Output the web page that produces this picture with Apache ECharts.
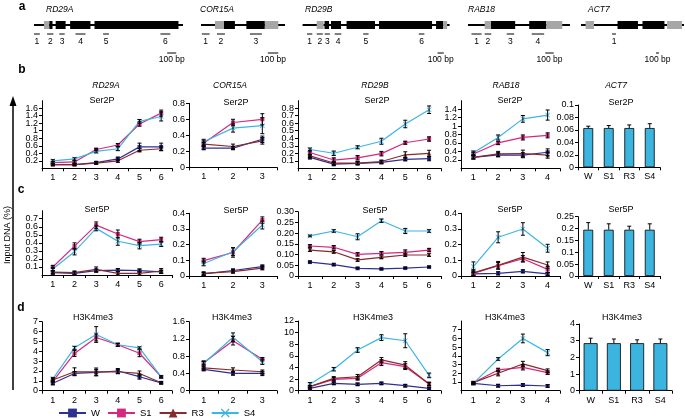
<!DOCTYPE html>
<html>
<head>
<meta charset="utf-8">
<script src="https://cdn.jsdelivr.net/npm/echarts@6/dist/echarts.min.js"></script>
<style>
html, body { margin: 0; padding: 0; background: #fff; }
#main { width: 685px; height: 419px; }
</style>
</head>
<body>
<div id="main"></div>
<script>
var SAMPLES = ["W", "S1", "R3", "S4"];
var COLORS = ["#2e3192", "#d6287f", "#8b2a2c", "#3db5e6"];
var X_PATH = "path://M1,0L5,4L9,0L10,1L6,5L10,9L9,10L5,6L1,10L0,9L4,5L0,1Z";
var SYMBOLS = ["rect", "rect", "triangle", X_PATH];
var BAR_CATS = ["W", "S1", "R3", "S4"];
var GENES = ["RD29A", "COR15A", "RD29B", "RAB18", "ACT7"];

// ---- panel a : gene structures (bp) ----
var geneLength = [1650, 800, 2335, 1200, 3400];
// [start, end, kind]  kind 1 = UTR (grey), 2 = exon (black)
var exons_RD29A = [[110, 170, 1], [170, 205, 2], [240, 350, 2], [400, 625, 2], [670, 1600, 2]];
var exons_COR15A = [[133, 219, 1], [219, 323, 2], [432, 608, 2], [608, 736, 1]];
var exons_RD29B = [[224, 335, 1], [348, 420, 2], [451, 610, 2], [698, 1150, 2], [1214, 2056, 2], [2120, 2232, 2], [2232, 2296, 1]];
var exons_RAB18 = [[196, 271, 1], [271, 555, 2], [720, 920, 2], [920, 1109, 1]];
var exons_ACT7 = [[150, 430, 1], [1205, 1880, 2], [2030, 2755, 2], [2840, 3335, 1]];
// ChIP amplicons
var amp_RD29A = [[0, 65], [145, 215], [280, 340], [460, 570], [765, 830], [1400, 1510]];
var amp_COR15A = [[8, 82], [152, 228], [466, 580]];
var amp_RD29B = [[70, 154], [224, 321], [351, 433], [510, 615], [962, 1048], [1845, 1935]];
var amp_RAB18 = [[41, 160], [196, 274], [455, 543], [750, 896]];
var amp_ACT7 = [[1025, 1155]];
// 100 bp scale bar start
var scaleStart = [1475, 636, 2143, 909, 2475];

// ---- b : Ser2P  (rows W, S1, R3, S4) ----
var b_RD29A = [[0.10, 0.10, 0.15, 0.25, 0.57, 0.57], [0.15, 0.17, 0.50, 0.62, 1.18, 1.47], [0.10, 0.10, 0.14, 0.20, 0.48, 0.52], [0.20, 0.25, 0.45, 0.52, 1.25, 1.38]];
var b_RD29A_err = [[0.02, 0.02, 0.03, 0.05, 0.10, 0.10], [0.03, 0.03, 0.03, 0.04, 0.06, 0.08], [0.02, 0.02, 0.03, 0.04, 0.04, 0.05], [0.03, 0.03, 0.04, 0.05, 0.05, 0.12]];
var b_COR15A = [[0.24, 0.24, 0.35], [0.30, 0.56, 0.60], [0.29, 0.26, 0.33], [0.32, 0.49, 0.52]];
var b_COR15A_err = [[0.02, 0.02, 0.04], [0.03, 0.04, 0.07], [0.02, 0.03, 0.04], [0.03, 0.05, 0.10]];
var b_RD29B = [[0.145, 0.055, 0.065, 0.08, 0.12, 0.13], [0.21, 0.11, 0.14, 0.195, 0.34, 0.39], [0.165, 0.07, 0.07, 0.09, 0.18, 0.2], [0.25, 0.2, 0.28, 0.36, 0.59, 0.78]];
var b_RD29B_err = [[0.02, 0.02, 0.02, 0.02, 0.02, 0.03], [0.03, 0.03, 0.03, 0.03, 0.02, 0.03], [0.02, 0.02, 0.02, 0.02, 0.04, 0.04], [0.02, 0.03, 0.02, 0.04, 0.05, 0.05]];
var b_RAB18 = [[0.26, 0.32, 0.31, 0.38], [0.34, 0.6, 0.73, 0.78], [0.26, 0.34, 0.35, 0.31], [0.37, 0.73, 1.17, 1.26]];
var b_RAB18_err = [[0.04, 0.05, 0.06, 0.08], [0.04, 0.04, 0.06, 0.06], [0.04, 0.06, 0.08, 0.07], [0.04, 0.06, 0.08, 0.12]];
var b_ACT7 = [0.063, 0.063, 0.063, 0.063];
var b_ACT7_err = [0.003, 0.004, 0.005, 0.007];

// ---- c : Ser5P ----
var c_RD29A = [[0.03, 0.02, 0.055, 0.06, 0.055, 0.04], [0.10, 0.36, 0.62, 0.51, 0.415, 0.44], [0.035, 0.03, 0.07, 0.02, 0.02, 0.05], [0.075, 0.29, 0.58, 0.42, 0.365, 0.385]];
var c_RD29A_err = [[0.02, 0.02, 0.02, 0.02, 0.02, 0.02], [0.02, 0.04, 0.04, 0.05, 0.03, 0.03], [0.02, 0.02, 0.03, 0.02, 0.02, 0.03], [0.02, 0.04, 0.03, 0.05, 0.04, 0.03]];
var c_COR15A = [[0.013, 0.035, 0.06], [0.098, 0.15, 0.357], [0.017, 0.028, 0.05], [0.08, 0.155, 0.325]];
var c_COR15A_err = [[0.01, 0.01, 0.01], [0.015, 0.03, 0.02], [0.01, 0.01, 0.01], [0.015, 0.025, 0.025]];
var c_RD29B = [[0.065, 0.053, 0.036, 0.033, 0.037, 0.042], [0.14, 0.134, 0.101, 0.106, 0.11, 0.121], [0.121, 0.113, 0.075, 0.087, 0.098, 0.098], [0.187, 0.21, 0.183, 0.258, 0.21, 0.21]];
var c_RD29B_err = [[0.004, 0.004, 0.003, 0.003, 0.003, 0.003], [0.006, 0.008, 0.008, 0.008, 0.012, 0.008], [0.006, 0.006, 0.006, 0.006, 0.006, 0.006], [0.004, 0.006, 0.014, 0.008, 0.012, 0.006]];
var c_RAB18 = [[0.013, 0.017, 0.03, 0.013], [0.017, 0.066, 0.11, 0.042], [0.02, 0.068, 0.12, 0.07], [0.06, 0.247, 0.3, 0.177]];
var c_RAB18_err = [[0.01, 0.01, 0.01, 0.01], [0.02, 0.02, 0.02, 0.02], [0.02, 0.025, 0.03, 0.02], [0.03, 0.035, 0.04, 0.025]];
var c_ACT7 = [0.195, 0.195, 0.195, 0.195];
var c_ACT7_err = [0.03, 0.025, 0.015, 0.025];

// ---- d : H3K4me3 ----
var d_RD29A = [[0.75, 1.75, 1.86, 2.0, 1.42, 0.8], [0.95, 3.78, 5.4, 4.66, 3.8, 1.4], [1.08, 1.92, 1.9, 1.92, 1.75, 0.8], [1.2, 4.35, 5.7, 4.66, 4.35, 1.4]];
var d_RD29A_err = [[0.15, 0.2, 0.3, 0.25, 0.25, 0.1], [0.15, 0.3, 0.35, 0.15, 0.35, 0.1], [0.15, 0.4, 0.4, 0.2, 0.25, 0.1], [0.15, 0.15, 0.8, 0.15, 0.1, 0.1]];
var d_COR15A = [[0.495, 0.4, 0.4], [0.65, 1.16, 0.73], [0.53, 0.48, 0.44], [0.63, 1.24, 0.67]];
var d_COR15A_err = [[0.03, 0.04, 0.05], [0.04, 0.1, 0.04], [0.03, 0.05, 0.04], [0.05, 0.1, 0.06]];
var d_RD29B = [[0.4, 1.26, 1.1, 1.26, 0.86, 0.4], [0.7, 1.95, 2.13, 4.83, 4.14, 1.15], [0.7, 2.13, 2.4, 5.3, 4.4, 1.15], [1.1, 3.7, 7.0, 9.14, 8.6, 2.64]];
var d_RD29B_err = [[0.15, 0.2, 0.2, 0.2, 0.2, 0.15], [0.2, 0.3, 0.3, 0.5, 0.5, 0.3], [0.2, 0.3, 0.4, 0.4, 0.6, 0.3], [0.3, 0.3, 0.4, 0.5, 1.2, 0.4]];
var d_RAB18 = [[0.84, 0.57, 0.65, 0.54], [0.92, 2.38, 2.68, 2.07], [0.92, 2.0, 3.07, 2.3], [0.84, 3.64, 6.0, 4.37]];
var d_RAB18_err = [[0.1, 0.15, 0.15, 0.15], [0.1, 0.2, 0.3, 0.2], [0.1, 0.3, 0.3, 0.2], [0.15, 0.15, 0.5, 0.35]];
var d_ACT7 = [2.85, 2.85, 2.85, 2.85];
var d_ACT7_err = [0.3, 0.25, 0.2, 0.25];

// axis ranges per row: [max, interval]
var b_axes = [[1.8, 0.2], [0.8, 0.2], [0.9, 0.1], [1.6, 0.2], [0.1, 0.02]];
var c_axes = [[0.8, 0.1], [0.4, 0.1], [0.30, 0.05], [0.4, 0.1], [0.25, 0.05]];
var d_axes = [[7, 1], [1.6, 0.4], [12, 2], [8, 1], [4, 1]];

// ---------------- layout ----------------
var FONT = "Liberation Sans";
var colX = [[42, 172], [189, 277], [298, 441], [461, 560], [578, 660]];
var rowY = {
  b: [[100.7, 168.3], [103.3, 167.3], [100.7, 168.3], [100.7, 168.3], [105, 167.3]],
  c: [[210.7, 275], [213.3, 276], [211.7, 276], [213.3, 276], [216.7, 276]],
  d: [[321.7, 390.7], [321.7, 390.7], [321, 390.7], [321, 390.7], [324, 390.7]]
};
var geneBox = [[34, 149], [201, 84], [302.6, 147], [468, 102], [581, 103]];

var grids = [], xAxes = [], yAxes = [], series = [], graphics = [];

function fmtNum(v, twoDec) {
  if (v === 0) return "0";
  var r = +v.toFixed(4);
  return twoDec ? r.toFixed(2) : String(r);
}

function addAxes(x0, x1, y0, y1, cats, max, step, twoDec) {
  var gi = grids.length;
  grids.push({ left: x0, top: y0, width: x1 - x0, height: y1 - y0 });
  xAxes.push({
    gridIndex: gi, type: "category", data: cats, boundaryGap: true,
    axisLine: { show: true, lineStyle: { color: "#000", width: 1 } },
    axisTick: { show: true, inside: false, length: 3, lineStyle: { color: "#000" } },
    axisLabel: { color: "#000", fontFamily: FONT, fontSize: 9, margin: 5 }
  });
  yAxes.push({
    gridIndex: gi, type: "value", min: 0, max: max, interval: step,
    axisLine: { show: true, lineStyle: { color: "#000", width: 1 } },
    axisTick: { show: true, length: 3, lineStyle: { color: "#000" } },
    splitLine: { show: false },
    axisLabel: {
      color: "#000", fontFamily: FONT, fontSize: 9, margin: 4,
      formatter: function (v) { return fmtNum(v, twoDec); }
    }
  });
  return gi;
}

function errRender(upperOnly) {
  return function (params, api) {
    var i = api.value(0), v = api.value(1), e = api.value(2);
    var hi = api.coord([i, v + e]);
    var lo = api.coord(upperOnly ? [i, v] : [i, v - e]);
    var w = 2;
    var st = { stroke: "#000", lineWidth: 1 };
    var kids = [
      { type: "line", shape: { x1: hi[0], y1: hi[1], x2: lo[0], y2: lo[1] }, style: st },
      { type: "line", shape: { x1: hi[0] - w, y1: hi[1], x2: hi[0] + w, y2: hi[1] }, style: st }
    ];
    if (!upperOnly) kids.push({ type: "line", shape: { x1: lo[0] - w, y1: lo[1], x2: lo[0] + w, y2: lo[1] }, style: st });
    return { type: "group", children: kids };
  };
}

function addLinePanel(col, yr, axis, vals, errs, twoDec) {
  var n = vals[0].length;
  var cats = [];
  for (var i = 1; i <= n; i++) cats.push(String(i));
  var gi = addAxes(colX[col][0], colX[col][1], yr[0], yr[1], cats, axis[0], axis[1], twoDec);
  for (var k = 0; k < 4; k++) {
    series.push({
      name: SAMPLES[k], type: "line", xAxisIndex: gi, yAxisIndex: gi,
      data: vals[k], symbol: SYMBOLS[k], symbolSize: k === 3 ? 5 : 4,
      lineStyle: { color: COLORS[k], width: 1.2 },
      itemStyle: { color: COLORS[k] }, z: 3
    });
    var ed = vals[k].map(function (v, j) { return [j, v, errs[k][j]]; });
    series.push({
      type: "custom", xAxisIndex: gi, yAxisIndex: gi, data: ed,
      renderItem: errRender(false), encode: { x: 0, y: 1 }, z: 4, silent: true
    });
  }
}

function addBarPanel(yr, axis, vals, errs, xr, barW) {
  var gi = addAxes(xr[0], xr[1], yr[0], yr[1], BAR_CATS, axis[0], axis[1], false);
  series.push({
    type: "bar", xAxisIndex: gi, yAxisIndex: gi, data: vals, barWidth: barW,
    itemStyle: { color: "#3cb4e0", borderColor: "#000", borderWidth: 0.8 }, z: 2
  });
  series.push({
    type: "custom", xAxisIndex: gi, yAxisIndex: gi,
    data: vals.map(function (v, j) { return [j, v, errs[j]]; }),
    renderItem: errRender(true), encode: { x: 0, y: 1 }, z: 4, silent: true
  });
}

// ---- gene diagrams ----
function geneRender(params, api) {
  var cs = params.coordSys;
  var a = api.coord([api.value(0), 0.5])[0], b = api.coord([api.value(1), 0.5])[0];
  var kind = api.value(2);
  var cy = cs.y + cs.height / 2;
  if (kind === 0) return { type: "line", shape: { x1: a, y1: cy, x2: b, y2: cy }, style: { stroke: "#000", lineWidth: 1.8 } };
  return { type: "rect", shape: { x: a, y: cs.y, width: b - a, height: cs.height }, style: { fill: kind === 1 ? "#a7a7a7" : "#000" } };
}
function ampRender(params, api) {
  var cs = params.coordSys;
  var a = api.coord([api.value(0), 0.5])[0], b = api.coord([api.value(1), 0.5])[0];
  var y = cs.y + cs.height + 5;
  return { type: "group", children: [
    { type: "line", shape: { x1: a, y1: y, x2: b, y2: y }, style: { stroke: "#000", lineWidth: 1 } },
    { type: "text", x: (a + b) / 2, y: y + 8, style: { text: String(params.dataIndex + 1), fill: "#000", font: "8.5px " + FONT, align: "center", verticalAlign: "middle" } }
  ] };
}
function scaleRender(params, api) {
  var cs = params.coordSys;
  var a = api.coord([api.value(0), 0.5])[0], b = api.coord([api.value(1), 0.5])[0];
  var y = cs.y + cs.height + 24;
  return { type: "group", children: [
    { type: "line", shape: { x1: a, y1: y, x2: b, y2: y }, style: { stroke: "#000", lineWidth: 1 } },
    { type: "text", x: (a + b) / 2, y: y + 7, style: { text: "100 bp", fill: "#000", font: "8.5px " + FONT, align: "center", verticalAlign: "middle" } }
  ] };
}
var allExons = [exons_RD29A, exons_COR15A, exons_RD29B, exons_RAB18, exons_ACT7];
var allAmps = [amp_RD29A, amp_COR15A, amp_RD29B, amp_RAB18, amp_ACT7];
var geneTitleX = [46, 200, 305, 468, 588];
GENES.forEach(function (g, i) {
  var gi = grids.length;
  grids.push({ left: geneBox[i][0], width: geneBox[i][1], top: 21, height: 8 });
  xAxes.push({ gridIndex: gi, type: "value", min: 0, max: geneLength[i], show: false });
  yAxes.push({ gridIndex: gi, type: "value", min: 0, max: 1, show: false });
  series.push({ type: "custom", xAxisIndex: gi, yAxisIndex: gi, renderItem: geneRender,
    data: [[0, geneLength[i], 0]].concat(allExons[i]), encode: { x: [0, 1] }, silent: true });
  series.push({ type: "custom", xAxisIndex: gi, yAxisIndex: gi, renderItem: ampRender,
    data: allAmps[i], encode: { x: [0, 1] }, silent: true });
  series.push({ type: "custom", xAxisIndex: gi, yAxisIndex: gi, renderItem: scaleRender,
    data: [[scaleStart[i], scaleStart[i] + 100]], encode: { x: [0, 1] }, silent: true });
  graphics.push({ type: "text", left: geneTitleX[i], top: 5, style: { text: g, fill: "#000", font: "italic 8.5px " + FONT } });
});

// ---- panels ----
var bVals = [b_RD29A, b_COR15A, b_RD29B, b_RAB18], bErr = [b_RD29A_err, b_COR15A_err, b_RD29B_err, b_RAB18_err];
var cVals = [c_RD29A, c_COR15A, c_RD29B, c_RAB18], cErr = [c_RD29A_err, c_COR15A_err, c_RD29B_err, c_RAB18_err];
var dVals = [d_RD29A, d_COR15A, d_RD29B, d_RAB18], dErr = [d_RD29A_err, d_COR15A_err, d_RD29B_err, d_RAB18_err];
for (var p = 0; p < 4; p++) {
  addLinePanel(p, rowY.b[p], b_axes[p], bVals[p], bErr[p], false);
  addLinePanel(p, rowY.c[p], c_axes[p], cVals[p], cErr[p], p === 2);
  addLinePanel(p, rowY.d[p], d_axes[p], dVals[p], dErr[p], false);
}
addBarPanel(rowY.b[4], b_axes[4], b_ACT7, b_ACT7_err, [578, 660], "48%");
addBarPanel(rowY.c[4], c_axes[4], c_ACT7, c_ACT7_err, [578, 660], "48%");
addBarPanel(rowY.d[4], d_axes[4], d_ACT7, d_ACT7_err, [579, 672], "60%");

// ---- texts ----
function txt(x, y, s, font) {
  graphics.push({ type: "text", x: x, y: y, style: { text: s, fill: "#000", font: font, align: "center", verticalAlign: "middle" } });
}
var geneTitleRowX = [106, 230, 375, 506, 616];
GENES.forEach(function (g, i) { txt(geneTitleRowX[i], 86, g, "italic 8.5px " + FONT); });
var ser2X = [102, 236, 377, 510, 621], ser2Y = [101, 103, 101, 101, 103];
var ser5X = [97, 236, 375, 510, 621], ser5Y = [210, 211, 211, 210, 210];
var h3X = [93, 232, 373, 505, 622];
for (var t = 0; t < 5; t++) {
  txt(ser2X[t], ser2Y[t], "Ser2P", "9px " + FONT);
  txt(ser5X[t], ser5Y[t], "Ser5P", "9px " + FONT);
  txt(h3X[t], 318, "H3K4me3", "9px " + FONT);
}
txt(22, 7, "a", "bold 12px " + FONT);
txt(22, 70, "b", "bold 12px " + FONT);
txt(21, 190, "c", "bold 12px " + FONT);
txt(21, 308, "d", "bold 12px " + FONT);
graphics.push({ type: "text", x: 8, y: 235, rotation: Math.PI / 2,
  style: { text: "Input DNA (%)", fill: "#000", font: "9px " + FONT, align: "center", verticalAlign: "middle" } });
graphics.push({ type: "line", shape: { x1: 13, y1: 104, x2: 13, y2: 390 }, style: { stroke: "#000", lineWidth: 1.5 } });
graphics.push({ type: "polygon", shape: { points: [[13, 96], [9.5, 106], [16.5, 106]] }, style: { fill: "#000" } });

var chart = echarts.init(document.getElementById("main"));
chart.setOption({
  animation: false,
  backgroundColor: "#fff",
  grid: grids,
  xAxis: xAxes,
  yAxis: yAxes,
  legend: {
    data: SAMPLES, left: 53, top: 403, itemWidth: 27, itemHeight: 11, itemGap: 7,
    textStyle: { color: "#000", fontFamily: FONT, fontSize: 9.5, width: 14 }
  },
  graphic: graphics,
  series: series
});
</script>
</body>
</html>
